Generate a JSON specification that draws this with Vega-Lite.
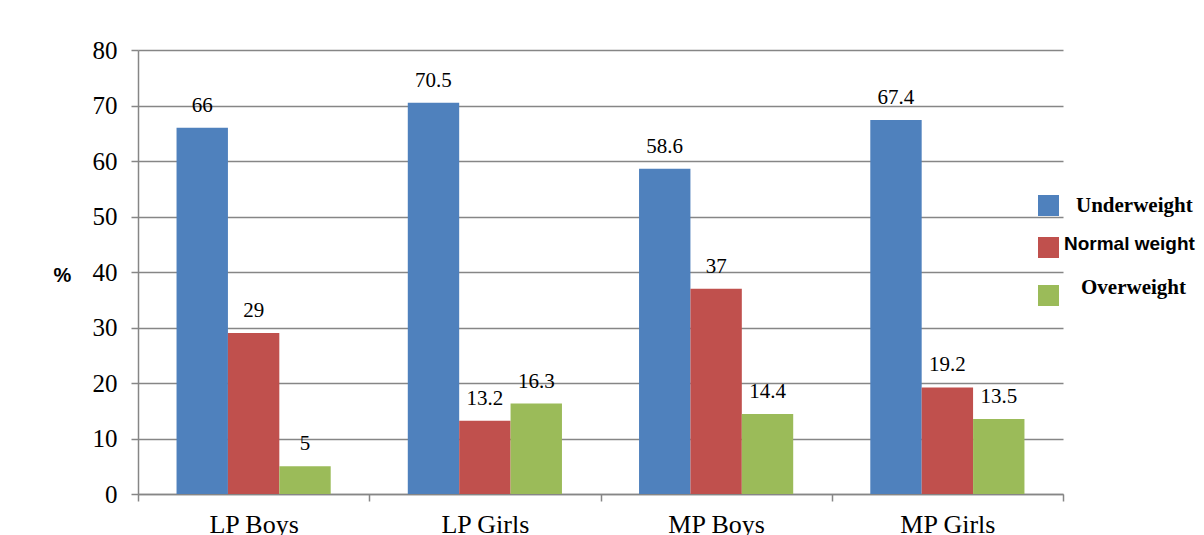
{
  "$schema": "https://vega.github.io/schema/vega-lite/v6.json",
  "width": 925,
  "height": 444,
  "autosize": {"type": "none"},
  "padding": {"left": 138, "top": 50, "right": 141, "bottom": 41},
  "background": "white",
  "config": {"view": {"stroke": null}},
  "data": {
    "values": [
      {"group": "LP Boys", "series": "Underweight", "value": 66},
      {"group": "LP Boys", "series": "Normal weight", "value": 29},
      {"group": "LP Boys", "series": "Overweight", "value": 5},
      {"group": "LP Girls", "series": "Underweight", "value": 70.5},
      {"group": "LP Girls", "series": "Normal weight", "value": 13.2},
      {"group": "LP Girls", "series": "Overweight", "value": 16.3},
      {"group": "MP Boys", "series": "Underweight", "value": 58.6},
      {"group": "MP Boys", "series": "Normal weight", "value": 37},
      {"group": "MP Boys", "series": "Overweight", "value": 14.4},
      {"group": "MP Girls", "series": "Underweight", "value": 67.4},
      {"group": "MP Girls", "series": "Normal weight", "value": 19.2},
      {"group": "MP Girls", "series": "Overweight", "value": 13.5}
    ]
  },
  "encoding": {
    "x": {
      "field": "group", "type": "nominal", "sort": null,
      "scale": {"paddingInner": 0, "paddingOuter": 0},
      "axis": {
        "title": null, "labelAngle": 0,
        "labelFont": "Liberation Serif", "labelFontSize": 26, "labelColor": "black",
        "labelPadding": 10,
        "tickBand": "extent", "tickSize": 7, "tickColor": "#868686", "tickWidth": 1.5,
        "domainColor": "#868686", "domainWidth": 1.5
      }
    },
    "xOffset": {
      "field": "series", "type": "nominal",
      "scale": {"domain": ["Underweight", "Normal weight", "Overweight"], "paddingInner": 0, "paddingOuter": 0.75}
    },
    "y": {
      "field": "value", "type": "quantitative",
      "scale": {"domain": [0, 80], "nice": false},
      "axis": {
        "values": [0, 10, 20, 30, 40, 50, 60, 70, 80],
        "title": "%", "titleAngle": 0, "titleAlign": "center", "titleBaseline": "middle",
        "titleX": -76, "titleY": 225,
        "titleFont": "Liberation Sans", "titleFontSize": 20, "titleFontWeight": "bold", "titleColor": "black",
        "labelFont": "Liberation Serif", "labelFontSize": 25, "labelColor": "black", "labelPadding": 14,
        "grid": true, "gridColor": "#868686", "gridWidth": 1.5,
        "tickSize": 7, "tickColor": "#868686", "tickWidth": 1.5,
        "domainColor": "#868686", "domainWidth": 1.5
      }
    }
  },
  "layer": [
    {
      "mark": {"type": "bar"},
      "encoding": {
        "color": {
          "field": "series", "type": "nominal",
          "scale": {"domain": ["Underweight", "Normal weight", "Overweight"], "range": ["#4F81BD", "#C0504D", "#9BBB59"]},
          "legend": {
            "title": null, "orient": "none", "legendX": 900, "legendY": 145,
            "padding": 0, "symbolType": "square", "symbolSize": 441, "symbolOpacity": 1, "symbolStrokeWidth": 0,
            "labelFont": "Liberation Serif", "labelFontSize": 21, "labelFontWeight": "bold", "labelColor": "black",
            "labelOffset": 17, "rowPadding": 18, "labelLimit": 300,
            "encode": {
              "symbols": {
                "enter": {
                  "fill": {"signal": "datum.value === 'Underweight' ? '#0070C0' : (datum.value === 'Overweight' ? '#92D050' : '#C0504D')"}
                },
                "update": {
                  "fill": {"signal": "datum.value === 'Underweight' ? '#0070C0' : (datum.value === 'Overweight' ? '#92D050' : '#C0504D')"},
                  "dx": {"signal": "datum.value === 'Normal weight' ? -4 : (datum.value === 'Overweight' ? 1 : 0)"}
                }
              },
              "labels": {
                "update": {
                  "font": {"signal": "datum.value === 'Normal weight' ? 'Liberation Sans' : 'Liberation Serif'"},
                  "fontSize": {"signal": "datum.value === 'Normal weight' ? 19 : 21"},
                  "dx": {"signal": "datum.value === 'Normal weight' ? -12 : (datum.value === 'Overweight' ? 5 : 0)"},
                  "dy": {"signal": "datum.value === 'Normal weight' ? -4 : (datum.value === 'Overweight' ? -8 : 0)"}
                }
              }
            }
          }
        }
      }
    },
    {
      "mark": {"type": "text", "baseline": "alphabetic", "dy": -16, "font": "Liberation Serif", "fontSize": 21, "color": "black"},
      "encoding": {"text": {"field": "value", "type": "quantitative"}}
    }
  ]
}
